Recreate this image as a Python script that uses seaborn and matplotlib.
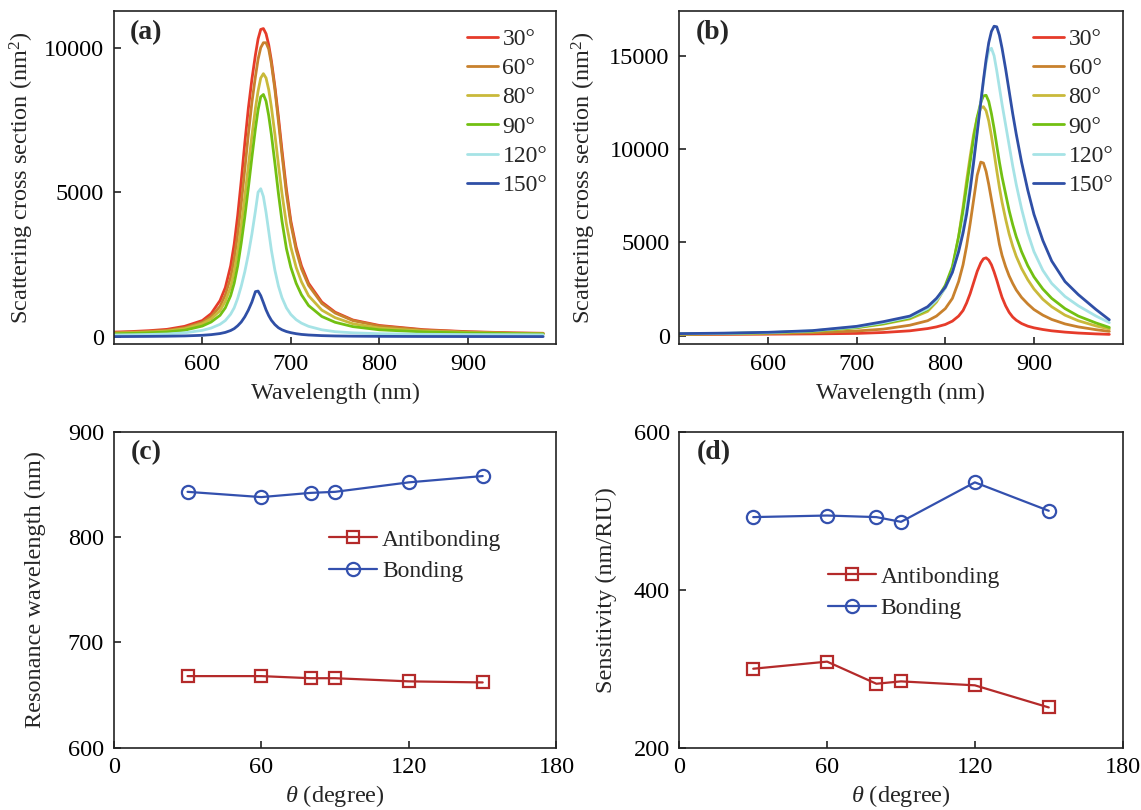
import matplotlib
matplotlib.use("Agg")
import matplotlib.pyplot as plt
import seaborn as sns

# (a) antibonding spectra, scattering cross section (nm^2) vs wavelength (nm)
WL_A = [500, 520, 540, 560, 580, 600, 610, 620, 626, 632, 636, 640, 644, 648, 652, 656, 660, 663, 666, 669,
        672, 675, 678, 682, 686, 690, 695, 700, 706, 712, 720, 735, 750, 770, 800, 850, 900, 950, 985]
A30 = [160, 180, 210, 255, 360, 560, 800, 1250, 1700, 2450, 3200, 4200, 5400, 6700, 7900, 8900, 9750, 10300, 10630, 10660,
       10480, 10100, 9550, 8650, 7600, 6450, 5100, 4000, 3100, 2450, 1850, 1200, 850, 580, 390, 245, 175, 135, 120]
A60 = [140, 160, 185, 220, 310, 500, 700, 1050, 1450, 2050, 2700, 3550, 4600, 5800, 7000, 8100, 9000, 9600, 10000, 10170,
       10170, 9950, 9450, 8550, 7450, 6300, 4950, 3900, 3000, 2350, 1780, 1150, 820, 560, 370, 230, 165, 125, 110]
A80 = [120, 138, 160, 195, 275, 450, 620, 900, 1230, 1720, 2250, 2950, 3850, 4850, 5900, 6950, 7900, 8500, 8950, 9100,
       8950, 8550, 7950, 7000, 5950, 4950, 3900, 3100, 2400, 1900, 1420, 920, 660, 450, 300, 195, 145, 115, 100]
A90 = [100, 115, 135, 165, 225, 370, 510, 740, 1000, 1420, 1850, 2450, 3250, 4150, 5150, 6200, 7200, 7850, 8300, 8380,
       8150, 7650, 7000, 6000, 4950, 4000, 3050, 2400, 1850, 1450, 1080, 700, 500, 350, 240, 165, 128, 106, 95]
A120 = [60, 68, 78, 95, 135, 220, 300, 430, 560, 780, 1000, 1330, 1750, 2250, 2850, 3550, 4350, 5000, 5120, 4850,
        4300, 3650, 3000, 2300, 1750, 1350, 1000, 770, 590, 470, 360, 240, 175, 135, 105, 85, 75, 70, 65]
A150 = [5, 8, 12, 18, 28, 50, 72, 110, 150, 215, 280, 380, 510, 690, 920, 1200, 1560, 1580, 1420, 1180,
        930, 730, 570, 420, 310, 240, 180, 140, 105, 80, 60, 38, 27, 19, 13, 9, 7, 6, 5]

# (b) bonding spectra
WL_B = [500, 550, 600, 650, 700, 730, 760, 780, 790, 800, 808, 815, 820, 824, 828, 832, 836, 840, 843, 846,
        849, 852, 855, 858, 861, 864, 868, 872, 876, 880, 886, 893, 900, 910, 920, 935, 950, 970, 985]
B30 = [60, 70, 80, 95, 120, 170, 260, 380, 470, 600, 780, 1050, 1350, 1750, 2250, 2850, 3450, 3900, 4120, 4170,
       4050, 3800, 3420, 2980, 2500, 2050, 1600, 1250, 1000, 830, 650, 510, 420, 330, 260, 190, 140, 95, 70]
B60 = [70, 85, 110, 160, 250, 350, 560, 800, 1050, 1450, 2000, 2900, 3800, 4800, 6000, 7300, 8600, 9300, 9250, 8800,
       8100, 7300, 6500, 5700, 4900, 4300, 3700, 3200, 2800, 2450, 2050, 1700, 1400, 1100, 870, 630, 470, 320, 230]
B80 = [90, 110, 150, 230, 420, 620, 900, 1300, 1800, 2600, 3600, 5300, 6900, 8300, 9600, 10800, 11700, 12200, 12270, 12050,
       11500, 10700, 9800, 8850, 7950, 7150, 6250, 5450, 4800, 4250, 3600, 3000, 2500, 1950, 1550, 1100, 800, 520, 360]
B90 = [95, 115, 155, 240, 440, 650, 950, 1400, 1900, 2700, 3700, 5300, 6700, 8000, 9300, 10600, 11700, 12500, 12850, 12880,
       12550, 11900, 11100, 10200, 9300, 8500, 7600, 6700, 5950, 5300, 4500, 3750, 3150, 2500, 2000, 1450, 1050, 680, 440]
B120 = [100, 125, 165, 260, 470, 700, 1000, 1450, 1900, 2550, 3400, 4600, 5700, 6800, 8100, 9500, 11000, 12500, 13600, 14600,
        15250, 15400, 15000, 14200, 13300, 12400, 11300, 10200, 9100, 8100, 6800, 5500, 4500, 3500, 2800, 2100, 1600, 1050, 700]
B150 = [110, 135, 180, 270, 500, 750, 1050, 1550, 2000, 2600, 3400, 4500, 5500, 6500, 7800, 9300, 10900, 12500, 13700, 14800,
        15700, 16300, 16580, 16550, 16100, 15400, 14300, 13100, 11900, 10800, 9300, 7800, 6500, 5100, 4000, 2900, 2200, 1400, 850]

ANGLE_LABELS = ["30°", "60°", "80°", "90°", "120°", "150°"]
ANGLE_COLORS = ["#e63b2a", "#c8812d", "#c9b93a", "#72c012", "#a6e3e6", "#2f4fa6"]

# (c), (d) vs angle
THETA = [30, 60, 80, 90, 120, 150]
RES_ANTI = [668, 668, 666, 666, 663, 662]
RES_BOND = [843, 838, 842, 843, 852, 858]
SENS_ANTI = [300, 309, 281, 284, 279, 251]
SENS_BOND = [492, 494, 492, 486, 536, 500]

ANTI_COLOR = "#b42a2a"
BOND_COLOR = "#3350ae"

sns.set_theme(style="ticks")
plt.rcParams["font.family"] = ["Liberation Serif", "DejaVu Serif"]
plt.rcParams["mathtext.fontset"] = "custom"
plt.rcParams["mathtext.rm"] = "Liberation Serif"
plt.rcParams["mathtext.it"] = "Liberation Serif:italic"
plt.rcParams["mathtext.bf"] = "Liberation Serif:bold"
plt.rcParams["axes.linewidth"] = 1.2
plt.rcParams["axes.edgecolor"] = "#222222"

fig = plt.figure(figsize=(11.41, 8.10), dpi=100)
ax_a = fig.add_axes([0.0997, 0.575, 0.388, 0.4115])
ax_b = fig.add_axes([0.5954, 0.575, 0.3885, 0.4115])
ax_c = fig.add_axes([0.0997, 0.0769, 0.388, 0.390])
ax_d = fig.add_axes([0.5954, 0.0769, 0.3885, 0.390])

TICK_FS = 17.5
LABEL_FS = 17.5
LEG_FS = 17


def style_axis(ax):
    ax.tick_params(direction="in", length=5, width=1.2, labelsize=TICK_FS, pad=7,
                   top=False, right=False, colors="#222222", labelcolor="black")
    for sp in ax.spines.values():
        sp.set_visible(True)
        sp.set_linewidth(1.2)


# spectra panels
for ax, wl, series, tag, ypad in [
    (ax_a, WL_A, [A30, A60, A80, A90, A120, A150], "(a)", 6),
    (ax_b, WL_B, [B30, B60, B80, B90, B120, B150], "(b)", 8),
]:
    for ys, lab, col in zip(series, ANGLE_LABELS, ANGLE_COLORS):
        sns.lineplot(x=wl, y=ys, ax=ax, color=col, lw=2.0, label=lab, sort=False)
    ax.set_xlim(500, 1000)
    ax.set_xticks([600, 700, 800, 900])
    ax.set_xlabel("Wavelength (nm)", fontsize=LABEL_FS, labelpad=6)
    ax.set_ylabel("Scattering cross section (nm$^2$)", fontsize=LABEL_FS, labelpad=ypad)
    ax.text(0.037, 0.934, tag, transform=ax.transAxes, fontsize=20, fontweight="bold",
            ha="left", va="center")
    ax.legend(loc="upper left", bbox_to_anchor=(0.797, 0.948), frameon=False, fontsize=LEG_FS,
              handlelength=1.32, handletextpad=0.2, labelspacing=0.33, borderpad=0,
              borderaxespad=0)
    style_axis(ax)

ax_a.set_ylim(-260, 11270)
ax_a.set_yticks([0, 5000, 10000])
ax_b.set_ylim(-460, 17400)
ax_b.set_yticks([0, 5000, 10000, 15000])

# angle panels
for ax, anti, bond, tag, ylim, yticks, ylab, leg_xy, ypad in [
    (ax_c, RES_ANTI, RES_BOND, "(c)", (600, 900), [600, 700, 800, 900],
     "Resonance wavelength (nm)", (0.487, 0.692), 16),
    (ax_d, SENS_ANTI, SENS_BOND, "(d)", (200, 600), [200, 400, 600],
     "Sensitivity (nm/RIU)", (0.335, 0.575), 12),
]:
    sns.lineplot(x=THETA, y=anti, ax=ax, color=ANTI_COLOR, lw=1.6, marker="s", markersize=9,
                 markerfacecolor="none", markeredgecolor=ANTI_COLOR, markeredgewidth=1.6,
                 label="Antibonding")
    sns.lineplot(x=THETA, y=bond, ax=ax, color=BOND_COLOR, lw=1.6, marker="o", markersize=9.5,
                 markerfacecolor="none", markeredgecolor=BOND_COLOR, markeredgewidth=1.6,
                 label="Bonding")
    ax.set_xlim(0, 180)
    ax.set_xticks([0, 60, 120, 180])
    ax.set_ylim(*ylim)
    ax.set_yticks(yticks)
    ax.set_xlabel(r"$\mathit{\theta}$ (degree)", fontsize=LABEL_FS, labelpad=3)
    ax.set_ylabel(ylab, fontsize=LABEL_FS, labelpad=ypad)
    ax.text(0.039, 0.933, tag, transform=ax.transAxes, fontsize=20, fontweight="bold",
            ha="left", va="center")
    ax.legend(loc="upper left", bbox_to_anchor=leg_xy, frameon=False, fontsize=LEG_FS,
              handlelength=2.03, handletextpad=0.2, labelspacing=0.42, borderpad=0,
              borderaxespad=0)
    style_axis(ax)

fig.savefig("out.png", dpi=100)
